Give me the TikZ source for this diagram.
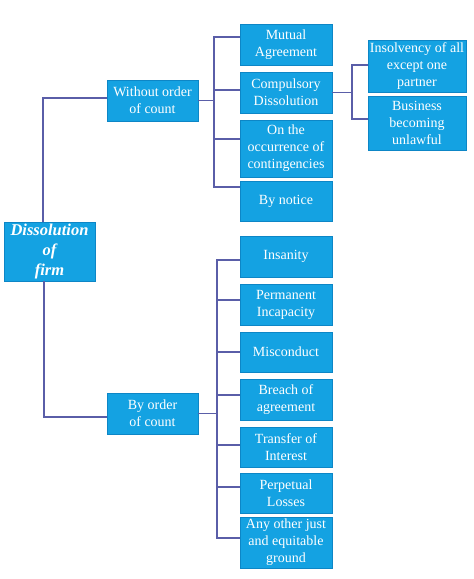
\documentclass[tikz,border=0pt]{standalone}
\usepackage{xcolor}
\usepackage{fontspec}
\setmainfont{Liberation Serif}
\usepackage{tikz}
\usetikzlibrary{positioning, calc}
\definecolor{boxblue}{HTML}{14A2E2}
\definecolor{edgeblue}{HTML}{0D86C6}
\definecolor{linkblue}{HTML}{5A5EA8}
\tikzstyle{box} = [draw=edgeblue, line width=0.8pt, fill=boxblue, text=white, align=center, inner sep=0pt, font=\fontsize{14}{17}\selectfont]
\tikzstyle{link} = [linkblue, line width=1.1pt]

\begin{document}
\begin{tikzpicture}[x=1pt, y=1pt]
    \useasboundingbox (0,0) rectangle (474,-579);

    % Root
    \node[box, minimum width=91pt, minimum height=59pt, font=\fontsize{16.5}{20}\selectfont\bfseries\itshape] (root) at (49.5,-251.5) {Dissolution\\of\\firm};

    % Two ways
    \node[box, minimum width=91pt, minimum height=41pt] (wo) at (152.5,-100.5) {Without order\\of count};
    \node[box, minimum width=91pt, minimum height=41pt] (bo) at (152.5,-413.5) {By order\\of count};

    % Without order of count
    \node[box, minimum width=92pt, minimum height=41pt] (ma) at (286,-44.5) {Mutual\\Agreement};
    \node[box, minimum width=92pt, minimum height=41pt] (cd) at (286,-92.5) {Compulsory\\Dissolution};
    \node[box, minimum width=92pt, minimum height=57pt] (oc) at (286,-148.5) {On the\\occurrence of\\contingencies};
    \node[box, minimum width=92pt, minimum height=40pt] (bn) at (286,-201) {By notice};

    % Compulsory dissolution
    \node[box, minimum width=98pt, minimum height=52pt] (io) at (417,-66) {Insolvency of all\\except one\\partner};
    \node[box, minimum width=98pt, minimum height=54pt] (bu) at (417,-123) {Business\\becoming\\unlawful};

    % By order of count
    \node[box, minimum width=92pt, minimum height=41pt] (in) at (286,-256.5) {Insanity};
    \node[box, minimum width=92pt, minimum height=41pt] (pi) at (286,-304.5) {Permanent\\Incapacity};
    \node[box, minimum width=92pt, minimum height=40pt] (mi) at (286,-352) {Misconduct};
    \node[box, minimum width=92pt, minimum height=41pt] (br) at (286,-399.5) {Breach of\\agreement};
    \node[box, minimum width=92pt, minimum height=40pt] (tr) at (286,-447) {Transfer of\\Interest};
    \node[box, minimum width=92pt, minimum height=40pt] (pl) at (286,-493) {Perpetual\\Losses};
    \node[box, minimum width=92pt, minimum height=51pt] (ao) at (286,-542.5) {Any other just\\and equitable\\ground};

    % Bus points
    \coordinate (wobus) at (214,-100.5);
    \coordinate (cdbus) at (352,-92.5);
    \coordinate (bobus) at (217,-413.5);

    % Connectors
    \draw[link] ([xshift=-6.5pt]root.north) |- ([yshift=2.5pt]wo.west);
    \draw[link] ([xshift=-5.5pt]root.south) |- ([yshift=-3.5pt]bo.west);

    \draw[link] (wo.east) -- (wobus);
    \foreach \n/\s in {ma/7.5, cd/2.5, oc/9.5, bn/14}
        \draw[link] (wobus) |- ([yshift=\s pt]\n.west);

    \draw[link] (cd.east) -- (cdbus);
    \foreach \n/\s in {io/1, bu/4}
        \draw[link] (cdbus) |- ([yshift=\s pt]\n.west);

    \draw[link] (bo.east) -- (bobus);
    \foreach \n/\s in {in/-3.5, pi/4.5, mi/0, br/4.5, tr/2, pl/6, ao/4.5}
        \draw[link] (bobus) |- ([yshift=\s pt]\n.west);
\end{tikzpicture}
\end{document}
